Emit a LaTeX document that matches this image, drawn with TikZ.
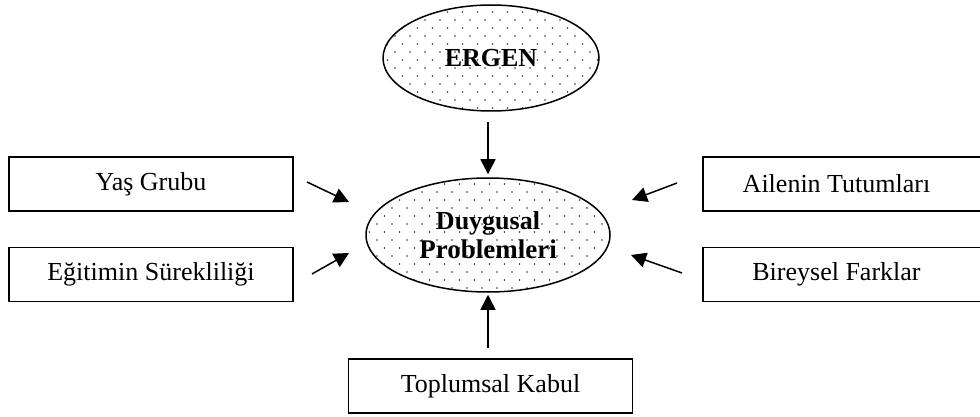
\documentclass[tikz,border=0pt]{standalone}
\usepackage{fontspec}
\setmainfont{Liberation Serif}
\usetikzlibrary{arrows.meta,shapes.geometric}
\begin{document}
\begin{tikzpicture}[x=1pt,y=-1pt,
  box/.style={draw,line width=1.5pt,minimum width=284pt,minimum height=54pt,inner sep=0pt,font=\fontsize{26}{30}\selectfont},
  oval/.style={ellipse,draw,line width=1.5pt,inner sep=0pt,font=\fontsize{26}{29}\selectfont\bfseries,align=center},
  arr/.style={line width=1.5pt,-{Triangle[length=15pt,width=15pt]}},
  dotfill/.style={fill=black!80}]
\useasboundingbox (0,0) rectangle (980,417);
\clip (0,0) rectangle (980,417);
% dotted fills
\begin{scope}
  \clip (491,58) ellipse [x radius=108, y radius=53];
  \foreach \r in {0,...,14}{
    \pgfmathsetmacro{\yy}{4+\r*8}
    \pgfmathsetmacro{\sh}{mod(\r,2)*7.5}
    \foreach \c in {0,...,16}{
      \fill[dotfill] (380+\sh+\c*15,\yy) circle (0.9);
    }
  }
\end{scope}
\begin{scope}
  \clip (488,235) ellipse [x radius=122, y radius=57];
  \foreach \r in {0,...,15}{
    \pgfmathsetmacro{\yy}{176+\r*8}
    \pgfmathsetmacro{\sh}{mod(\r,2)*7.5}
    \foreach \c in {0,...,18}{
      \fill[dotfill] (362+\sh+\c*15,\yy) circle (0.9);
    }
  }
\end{scope}
\node[oval,minimum width=216pt,minimum height=106pt] (ergen) at (491,58) {ERGEN};
\node[oval,minimum width=244pt,minimum height=114pt] (duy) at (488,235) {Duygusal\\{\fontsize{27}{29}\selectfont Problemleri}};
\node[box] (yas) at (151,184) {Yaş Grubu};
\node[box] (egt) at (151,274.5) {Eğitimin Sürekliliği};
\node[box] (aile) at (845,184) {\hspace*{-17pt}Ailenin Tutumları};
\node[box] (bir) at (845,274.5) {\hspace*{-17pt}Bireysel Farklar};
\node[box] (top) at (490.5,386) {Toplumsal Kabul};
% arrow end points
\coordinate (a0s) at (488,122);
\coordinate (a5s) at (488,348);
\coordinate (a1s) at (307,182); \coordinate (a1e) at (349,202);
\coordinate (a2s) at (312,274); \coordinate (a2e) at (349,253);
\coordinate (a3s) at (677,183); \coordinate (a3e) at (632,200);
\coordinate (a4s) at (682,273); \coordinate (a4e) at (631,255);
\draw[arr,shorten >=3pt] (a0s) -- (duy.north);
\draw[arr,shorten >=2pt] (a5s) -- (duy.south);
\draw[arr] (a1s) -- (a1e);
\draw[arr] (a2s) -- (a2e);
\draw[arr] (a3s) -- (a3e);
\draw[arr] (a4s) -- (a4e);
\end{tikzpicture}
\end{document}
